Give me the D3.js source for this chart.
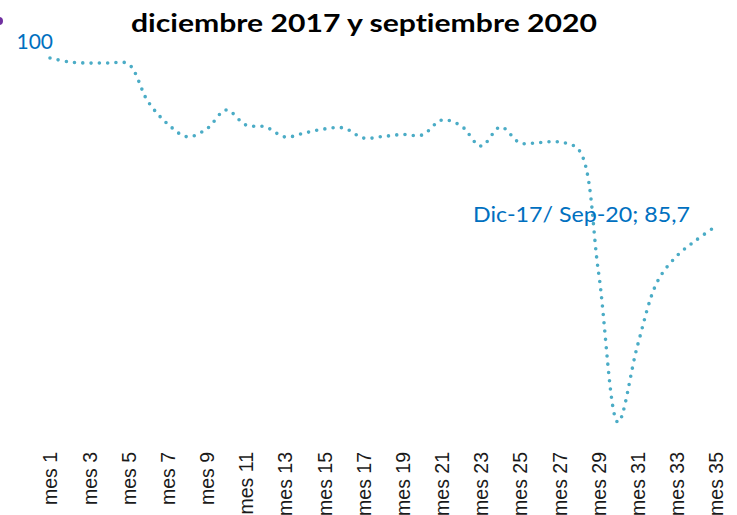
<!DOCTYPE html>
<html>
<head>
<meta charset="utf-8">
<script src="https://cdn.jsdelivr.net/npm/d3@7"></script>
<style>
  body { margin: 0; background: #fff; }
  svg { display: block; }
  text { font-variant-ligatures: none; }
</style>
</head>
<body>
<div id="chart"></div>
<script>
// months on the x axis
const months = d3.range(1, 36).map((i) => "mes " + i);

// index values (dic-17 = 100)
const values = [
  100, 99.66, 99.57, 99.57, 99.49, 96.3, 94.4, 93.3, 93.96, 95.57,
  94.3, 94.13, 93.28, 93.62, 93.96, 94.04, 93.19, 93.32, 93.49, 93.45,
  94.72, 94.21, 92.51, 94.13, 92.77, 92.81, 92.85, 92.17, 81.8, 69.0,
  75.57, 80.94, 83.15, 84.51, 85.7,
];

const title = "diciembre 2017 y septiembre 2020";
const firstLabel = "100";
const lastLabel = "Dic-17/ Sep-20; 85,7";

const width = 737,
  height = 515;
const lineColor = "#4BACC6";
const labelBlue = "#0070C0";

const svg = d3
  .select("#chart")
  .append("svg")
  .attr("width", width)
  .attr("height", height);

const x = d3.scalePoint().domain(months).range([50, 716]);
const y = d3.scaleLinear().domain([68, 100]).range([434, 58]);

const data = months.map((m, i) => ({ month: m, value: values[i] }));

// title
svg
  .append("text")
  .attr("x", 364)
  .attr("y", 32)
  .attr("text-anchor", "middle")
  .attr("font-family", "Lato, 'Open Sans', sans-serif")
  .attr("font-weight", "bold")
  .attr("font-size", 25)
  .attr("textLength", 466)
  .attr("lengthAdjust", "spacingAndGlyphs")
  .attr("fill", "#000")
  .text(title);

// leftover marker from the legend, cut by the edge
svg
  .append("circle")
  .attr("cx", -1)
  .attr("cy", 21)
  .attr("r", 4)
  .attr("fill", "#7030A0");

// dotted smoothed line
const line = d3
  .line()
  .x((d) => x(d.month))
  .y((d) => y(d.value))
  .curve(d3.curveCatmullRom.alpha(0.5));

svg
  .append("path")
  .datum(data)
  .attr("fill", "none")
  .attr("stroke", lineColor)
  .attr("stroke-width", 3.6)
  .attr("stroke-linecap", "round")
  .attr("stroke-dasharray", "0 8.3")
  .attr("d", line);

// x axis, every second month, rotated labels
const xAxis = svg
  .append("g")
  .attr("transform", "translate(0,452)")
  .call(
    d3
      .axisBottom(x)
      .tickValues(months.filter((d, i) => i % 2 === 0))
      .tickSize(0)
  );
xAxis.select(".domain").remove();
xAxis
  .selectAll(".tick text")
  .attr("transform", "rotate(-90)")
  .attr("x", 0)
  .attr("y", 0)
  .attr("dy", "0.35em")
  .attr("text-anchor", "end")
  .attr("font-family", "'Liberation Sans', Arial, sans-serif")
  .attr("font-size", 19.5)
  .attr("fill", "#1a1a1a");

// data labels on first and last point
const first = data[0],
  last = data[data.length - 1];

svg
  .append("text")
  .attr("x", x(first.month) + 3)
  .attr("y", y(first.value) - 9)
  .attr("text-anchor", "end")
  .attr("font-family", "Lato, 'Open Sans', sans-serif")
  .attr("font-size", 21)
  .attr("fill", labelBlue)
  .text(firstLabel);

svg
  .append("text")
  .attr("x", x(last.month) - 26)
  .attr("y", y(last.value) - 4)
  .attr("text-anchor", "end")
  .attr("font-family", "Lato, 'Open Sans', sans-serif")
  .attr("font-size", 21)
  .attr("textLength", 217)
  .attr("lengthAdjust", "spacingAndGlyphs")
  .attr("fill", labelBlue)
  .text(lastLabel);
</script>
</body>
</html>
